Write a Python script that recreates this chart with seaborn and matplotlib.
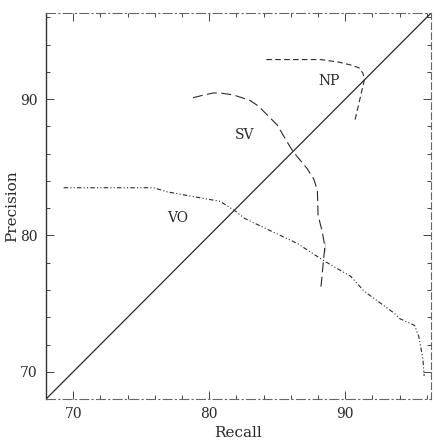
import numpy as np
import pandas as pd
import matplotlib
matplotlib.use("Agg")
import matplotlib.pyplot as plt
import seaborn as sns

# Recall / precision curves
np_recall = [84.2, 86.7, 88.2, 89.6, 90.4, 91.0, 91.3, 91.4, 91.1, 90.7]
np_precision = [92.9, 92.9, 92.9, 92.7, 92.5, 92.3, 91.9, 91.4, 90.1, 88.4]

sv_recall = [78.8, 79.6, 80.3, 80.8, 81.8, 83.0, 83.6, 84.3, 85.0, 85.7, 86.2,
             87.2, 87.7, 87.95, 88.0, 88.3, 88.5, 88.5, 88.2]
sv_precision = [90.1, 90.3, 90.45, 90.45, 90.3, 89.9, 89.5, 88.8, 88.1, 86.9, 86.1,
                84.9, 84.1, 83.3, 81.5, 80.3, 79.6, 78.8, 76.1]

vo_recall = [69.3, 72.0, 75.9, 76.9, 80.8, 81.9, 82.6, 86.5, 88.5, 90.4, 91.4,
             93.6, 94.0, 95.1, 95.4, 95.7, 95.8]
vo_precision = [83.5, 83.5, 83.5, 83.2, 82.5, 81.8, 81.25, 79.4, 78.1, 77.0, 75.9,
                74.3, 73.9, 73.4, 72.6, 71.0, 69.7]

labels = ["NP", "SV", "VO"]
label_x = [88.8, 82.6, 77.7]
label_y = [91.3, 87.4, 81.3]

lim = [68.0, 96.3]
major_ticks = [70, 80, 90]

sns.set_style("ticks")
plt.rcParams['font.family'] = ['DejaVu Serif']

fig = plt.figure(figsize=(4.34, 4.40), dpi=100)
ax = fig.add_axes([0.106, 0.093, 0.887, 0.877])

ink = "#2a2a2a"
curves = [
    (np_recall, np_precision, (0, (5, 3))),
    (sv_recall, sv_precision, (0, (9, 4))),
    (vo_recall, vo_precision, (0, (4, 2, 1, 2, 1, 2))),
]
for rx, py, ls in curves:
    d = pd.DataFrame({"Recall": rx, "Precision": py})
    sns.lineplot(data=d, x="Recall", y="Precision", sort=False, ax=ax,
                 color=ink, lw=0.8, linestyle=ls)

# precision = recall line
sns.lineplot(x=lim, y=lim, ax=ax, color=ink, lw=0.9)

for t, x, y in zip(labels, label_x, label_y):
    ax.text(x, y, t, ha="center", va="center", fontsize=10, color=ink)

ax.set_xlim(lim)
ax.set_ylim(lim)
ax.set_xticks(major_ticks)
ax.set_yticks(major_ticks)
ax.set_xticks(np.arange(70, 97, 2), minor=True)
ax.set_yticks(np.arange(70, 97, 2), minor=True)
ax.tick_params(which="both", direction="in", top=True, right=True,
               color="#444444", labelsize=10, labelcolor=ink, width=0.7)
ax.tick_params(which="major", length=6, pad=6)
ax.tick_params(which="minor", length=3)

ax.set_xlabel("Recall", fontsize=11, color=ink, labelpad=3)
ax.set_ylabel("Precision", fontsize=11, color=ink, labelpad=1)

# scanned frame: solid left edge, broken others
ax.spines["left"].set_color("#333333")
ax.spines["left"].set_linewidth(1.0)
for side, style in [("right", (0, (6, 3))), ("top", (0, (8, 3, 1, 3))), ("bottom", (0, (8, 3, 1, 3)))]:
    ax.spines[side].set_color("#666666")
    ax.spines[side].set_linewidth(0.8)
    ax.spines[side].set_linestyle(style)

fig.savefig("out.png", dpi=100)
